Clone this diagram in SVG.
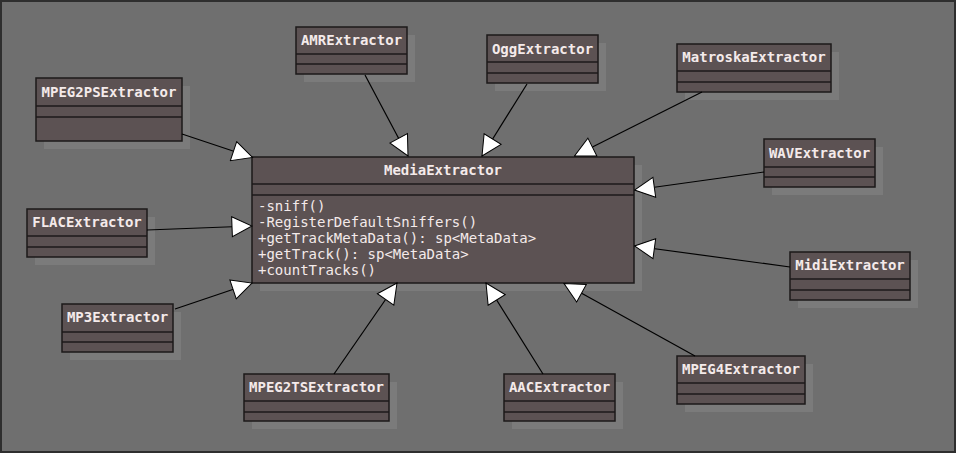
<svg xmlns="http://www.w3.org/2000/svg" width="957" height="454" viewBox="0 0 957 454">
<defs>
<style>
.bg{fill:#6f6f6f;stroke:#2e2e2e;stroke-width:2}
.sh{fill:#7b7b7b}
.box{fill:#5c5253;stroke:#1c1a1a;stroke-width:1.5}
.sep{stroke:#1c1a1a;stroke-width:1.5}
.t{font-family:"DejaVu Sans Mono","Liberation Mono",monospace;font-size:14px;font-weight:bold;fill:#f4eaea;text-anchor:middle}
.m{font-family:"DejaVu Sans Mono","Liberation Mono",monospace;font-size:14px;fill:#f4eaea}
.c{stroke:#000;stroke-width:1.2;fill:none;marker-end:url(#tri)}
</style>
<marker id="tri" viewBox="0 0 22 22" refX="21" refY="11" markerWidth="22" markerHeight="22" markerUnits="userSpaceOnUse" orient="auto">
<path d="M1,1 L21,11 L1,21 Z" fill="#fff" stroke="#000" stroke-width="1"/>
</marker>
</defs>
<rect class="bg" x="1" y="1" width="954" height="451"/>

<g id="MediaExtractor">
<rect class="sh" x="260" y="165" width="382" height="126"/>
<rect class="box" x="252" y="157" width="382" height="126"/>
<line class="sep" x1="252" y1="184" x2="634" y2="184"/>
<line class="sep" x1="252" y1="195" x2="634" y2="195"/>
<text class="t" x="443" y="175">MediaExtractor</text>
<text class="m" x="258" y="211">-sniff()</text>
<text class="m" x="258" y="227">-RegisterDefaultSniffers()</text>
<text class="m" x="258" y="243">+getTrackMetaData(): sp&lt;MetaData&gt;</text>
<text class="m" x="258" y="259">+getTrack(): sp&lt;MetaData&gt;</text>
<text class="m" x="258" y="275">+countTracks()</text>
</g>

<g id="MPEG2PSExtractor">
<rect class="sh" x="44" y="86" width="146" height="63"/>
<rect class="box" x="36" y="78" width="146" height="63"/>
<line class="sep" x1="36" y1="106" x2="182" y2="106"/>
<line class="sep" x1="36" y1="117" x2="182" y2="117"/>
<text class="t" x="109" y="97">MPEG2PSExtractor</text>
</g>

<g id="AMRExtractor">
<rect class="sh" x="304" y="35" width="111" height="47"/>
<rect class="box" x="296" y="27" width="111" height="47"/>
<line class="sep" x1="296" y1="54" x2="407" y2="54"/>
<line class="sep" x1="296" y1="64" x2="407" y2="64"/>
<text class="t" x="351.5" y="45">AMRExtractor</text>
</g>

<g id="OggExtractor">
<rect class="sh" x="495" y="43" width="111" height="48"/>
<rect class="box" x="487" y="35" width="111" height="48"/>
<line class="sep" x1="487" y1="62" x2="598" y2="62"/>
<line class="sep" x1="487" y1="73" x2="598" y2="73"/>
<text class="t" x="542.5" y="54">OggExtractor</text>
</g>

<g id="MatroskaExtractor">
<rect class="sh" x="685" y="52" width="154" height="48"/>
<rect class="box" x="677" y="44" width="154" height="48"/>
<line class="sep" x1="677" y1="71" x2="831" y2="71"/>
<line class="sep" x1="677" y1="82" x2="831" y2="82"/>
<text class="t" x="754" y="62">MatroskaExtractor</text>
</g>

<g id="WAVExtractor">
<rect class="sh" x="772" y="147" width="111" height="48"/>
<rect class="box" x="764" y="139" width="111" height="48"/>
<line class="sep" x1="764" y1="167" x2="875" y2="167"/>
<line class="sep" x1="764" y1="177" x2="875" y2="177"/>
<text class="t" x="819.5" y="158">WAVExtractor</text>
</g>

<g id="FLACExtractor">
<rect class="sh" x="35" y="217" width="120" height="48"/>
<rect class="box" x="27" y="209" width="120" height="48"/>
<line class="sep" x1="27" y1="236" x2="147" y2="236"/>
<line class="sep" x1="27" y1="247" x2="147" y2="247"/>
<text class="t" x="87" y="227">FLACExtractor</text>
</g>

<g id="MP3Extractor">
<rect class="sh" x="70" y="312" width="111" height="48"/>
<rect class="box" x="62" y="304" width="111" height="48"/>
<line class="sep" x1="62" y1="332" x2="173" y2="332"/>
<line class="sep" x1="62" y1="342" x2="173" y2="342"/>
<text class="t" x="117.5" y="322">MP3Extractor</text>
</g>

<g id="MPEG2TSExtractor">
<rect class="sh" x="252" y="382" width="145" height="47"/>
<rect class="box" x="244" y="374" width="145" height="47"/>
<line class="sep" x1="244" y1="401" x2="389" y2="401"/>
<line class="sep" x1="244" y1="412" x2="389" y2="412"/>
<text class="t" x="316.5" y="392">MPEG2TSExtractor</text>
</g>

<g id="AACExtractor">
<rect class="sh" x="512" y="382" width="111" height="47"/>
<rect class="box" x="504" y="374" width="111" height="47"/>
<line class="sep" x1="504" y1="401" x2="615" y2="401"/>
<line class="sep" x1="504" y1="412" x2="615" y2="412"/>
<text class="t" x="559.5" y="392">AACExtractor</text>
</g>

<g id="MidiExtractor">
<rect class="sh" x="798" y="260" width="120" height="48"/>
<rect class="box" x="790" y="252" width="120" height="48"/>
<line class="sep" x1="790" y1="279" x2="910" y2="279"/>
<line class="sep" x1="790" y1="290" x2="910" y2="290"/>
<text class="t" x="850" y="270">MidiExtractor</text>
</g>

<g id="MPEG4Extractor">
<rect class="sh" x="685" y="364" width="128" height="48"/>
<rect class="box" x="677" y="356" width="128" height="48"/>
<line class="sep" x1="677" y1="383" x2="805" y2="383"/>
<line class="sep" x1="677" y1="394" x2="805" y2="394"/>
<text class="t" x="741" y="374">MPEG4Extractor</text>
</g>

<g id="connectors">
<line class="c" x1="182" y1="134" x2="252.5" y2="157.5"/>
<line class="c" x1="365" y1="75" x2="408" y2="156"/>
<line class="c" x1="527" y1="84" x2="482" y2="156"/>
<line class="c" x1="702" y1="92" x2="574.5" y2="156"/>
<line class="c" x1="764" y1="172" x2="634.5" y2="190"/>
<line class="c" x1="147" y1="230" x2="252" y2="226"/>
<line class="c" x1="175" y1="309" x2="252" y2="283"/>
<line class="c" x1="334" y1="374" x2="397" y2="283"/>
<line class="c" x1="543" y1="374" x2="486" y2="283"/>
<line class="c" x1="695" y1="356" x2="564" y2="283.5"/>
<line class="c" x1="790" y1="267" x2="634.5" y2="246"/>
</g>
</svg>
